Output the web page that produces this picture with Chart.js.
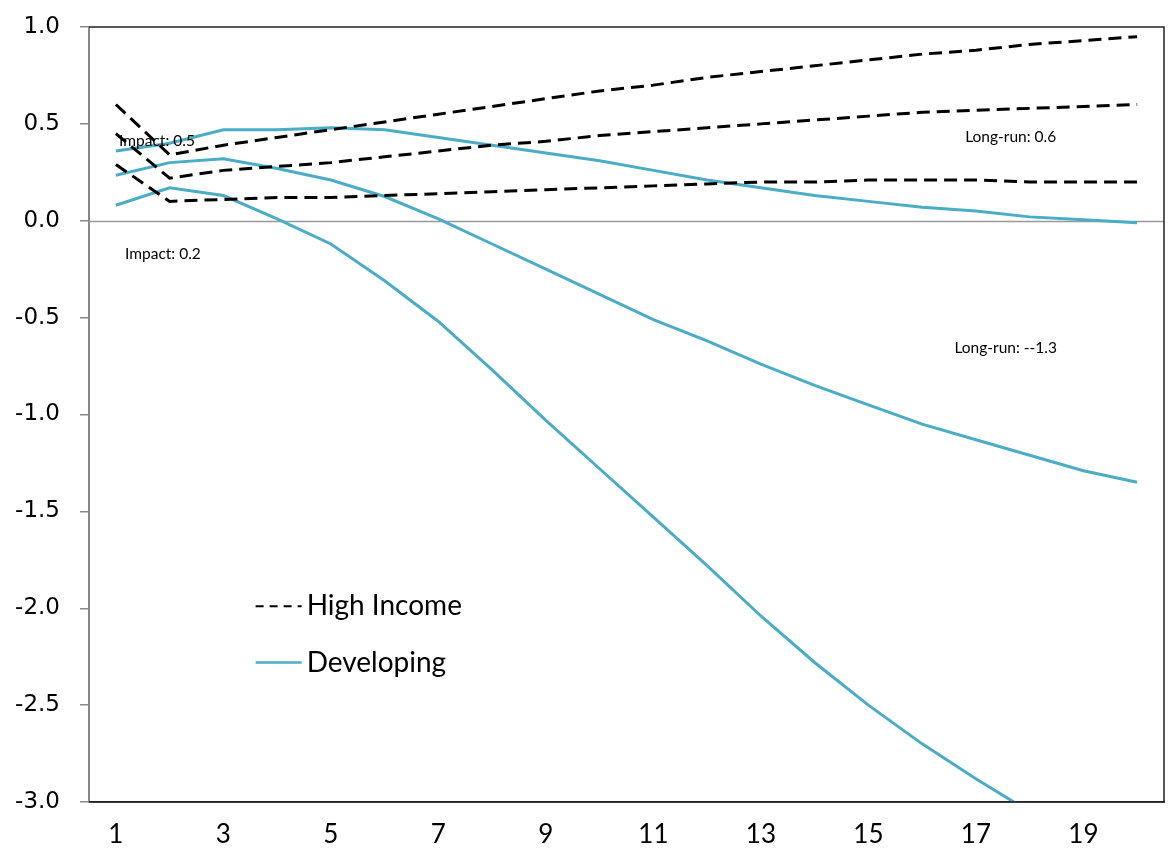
<!DOCTYPE html>
<html>
<head>
<meta charset="utf-8">
<script src="https://cdn.jsdelivr.net/npm/chart.js@4/dist/chart.umd.min.js"></script>
<style>
  html, body { margin: 0; padding: 0; background: #fff; }
  #wrap { width: 1168px; height: 860px; position: relative; }
</style>
</head>
<body>
<div id="wrap"><canvas id="chart"></canvas></div>
<script>
// horizon (periods)
const periods = ['1','2','3','4','5','6','7','8','9','10','11','12','13','14','15','16','17','18','19','20'];

// High income responses (dashed): upper band, central, lower band
const highUpper = [0.60, 0.34, 0.39, 0.43, 0.47, 0.51, 0.55, 0.59, 0.63, 0.67, 0.70, 0.74, 0.77, 0.80, 0.83, 0.86, 0.88, 0.91, 0.93, 0.95];
const highMid   = [0.45, 0.22, 0.26, 0.28, 0.30, 0.33, 0.36, 0.39, 0.41, 0.44, 0.46, 0.48, 0.50, 0.52, 0.54, 0.56, 0.57, 0.58, 0.59, 0.60];
const highLower = [0.29, 0.10, 0.11, 0.12, 0.12, 0.13, 0.14, 0.15, 0.16, 0.17, 0.18, 0.19, 0.20, 0.20, 0.21, 0.21, 0.21, 0.20, 0.20, 0.20];

// Developing responses (solid)
const devUpper = [0.36, 0.40, 0.47, 0.47, 0.48, 0.47, 0.43, 0.39, 0.35, 0.31, 0.26, 0.21, 0.17, 0.13, 0.10, 0.07, 0.05, 0.02, 0.005, -0.01];
const devMid   = [0.235, 0.30, 0.32, 0.27, 0.21, 0.125, 0.01, -0.12, -0.25, -0.38, -0.51, -0.62, -0.74, -0.85, -0.95, -1.05, -1.13, -1.21, -1.29, -1.35];
const devLower = [0.08, 0.17, 0.13, 0.01, -0.12, -0.31, -0.52, -0.77, -1.03, -1.28, -1.53, -1.78, -2.04, -2.28, -2.50, -2.70, -2.88, -3.05, -3.20, -3.35];

const yTicks = [1.0, 0.5, 0.0, -0.5, -1.0, -1.5, -2.0, -2.5, -3.0];

const TEAL = '#4BACC6';
const DASH = [13, 7];

function dashed(data) {
    return { data: data, borderColor: '#000', borderWidth: 3, borderDash: DASH, pointRadius: 0, fill: false, tension: 0 };
}
function solid(data) {
    return { data: data, borderColor: TEAL, borderWidth: 3, pointRadius: 0, fill: false, tension: 0 };
}

// annotations and in-plot legend, anchored in data units
const notes = [
    { text: 'Impact: 0.5', x: 0.06, y: 0.41 },
    { text: 'Impact: 0.2', x: 0.17, y: -0.17 },
    { text: 'Long-run: 0.6', x: 15.8, y: 0.43 },
    { text: 'Long-run: --1.3', x: 15.6, y: -0.655 }
];

const decorPlugin = {
    id: 'decor',
    beforeDatasetsDraw(chart) {
        const { ctx, chartArea: a, scales } = chart;
        const y0 = Math.round(scales.y.getPixelForValue(0)) + 0.5;
        ctx.save();
        ctx.strokeStyle = '#999';
        ctx.lineWidth = 1.5;
        ctx.beginPath();
        ctx.moveTo(a.left, y0);
        ctx.lineTo(a.right, y0);
        ctx.stroke();
        ctx.restore();
    },
    afterDraw(chart) {
        const { ctx, chartArea: a, scales } = chart;
        const xs = scales.x, ys = scales.y;
        ctx.save();
        // frame: top, right, bottom
        ctx.strokeStyle = '#222';
        ctx.lineWidth = 1.5;
        ctx.beginPath();
        ctx.moveTo(a.left, a.top);
        ctx.lineTo(a.right, a.top);
        ctx.lineTo(a.right, a.bottom);
        ctx.lineTo(a.left, a.bottom);
        ctx.stroke();

        // text annotations
        ctx.fillStyle = '#000';
        ctx.font = '15.5px Lato';
        ctx.textBaseline = 'middle';
        ctx.textAlign = 'left';
        notes.forEach(n => {
            ctx.fillText(n.text, xs.getPixelForValue(n.x), ys.getPixelForValue(n.y));
        });

        // legend
        const lx = xs.getPixelForValue(2.6);
        const r1 = ys.getPixelForValue(-1.99);
        const r2 = ys.getPixelForValue(-2.28);
        ctx.lineWidth = 2;
        ctx.strokeStyle = '#000';
        ctx.setLineDash([8, 6]);
        ctx.beginPath();
        ctx.moveTo(lx, r1);
        ctx.lineTo(lx + 46, r1);
        ctx.stroke();
        ctx.setLineDash([]);
        ctx.strokeStyle = TEAL;
        ctx.lineWidth = 2.5;
        ctx.beginPath();
        ctx.moveTo(lx, r2);
        ctx.lineTo(lx + 46, r2);
        ctx.stroke();
        ctx.font = '28px Lato';
        ctx.fillText('High Income', lx + 51, r1);
        ctx.fillText('Developing', lx + 51, r2);
        ctx.restore();
    }
};

const ctx = document.getElementById('chart').getContext('2d');
new Chart(ctx, {
    type: 'line',
    data: {
        labels: periods,
        datasets: [
            dashed(highUpper), dashed(highMid), dashed(highLower),
            solid(devUpper), solid(devMid), solid(devLower)
        ]
    },
    options: {
        responsive: true,
        maintainAspectRatio: false,
        animation: false,
        layout: { padding: { top: 27, right: 4, left: 0, bottom: 0 } },
        plugins: { legend: { display: false }, tooltip: { enabled: false } },
        scales: {
            x: {
                offset: true,
                grid: { display: false },
                border: { display: true, color: '#222', width: 1.5 },
                ticks: {
                    autoSkip: false,
                    maxRotation: 0,
                    padding: 9,
                    color: '#000',
                    font: { family: 'Lato', size: 26 },
                    callback: (v, i) => (i % 2 === 0 ? periods[i] : '')
                },
                afterFit: s => { s.height = 58; s.paddingLeft = 0; s.paddingRight = 0; }
            },
            y: {
                min: -3,
                max: 1,
                afterBuildTicks: s => { s.ticks = yTicks.map(v => ({ value: v })); },
                grid: { drawOnChartArea: false, drawTicks: true, tickLength: 9, color: '#888', lineWidth: 1.5 },
                border: { display: true, color: '#888', width: 2 },
                ticks: {
                    padding: 20,
                    color: '#000',
                    font: { family: 'DejaVu Sans', size: 23 },
                    callback: v => v.toFixed(1)
                },
                afterFit: s => { s.width = 89; s.paddingTop = 0; s.paddingBottom = 0; }
            }
        }
    },
    plugins: [decorPlugin]
});
</script>
</body>
</html>
